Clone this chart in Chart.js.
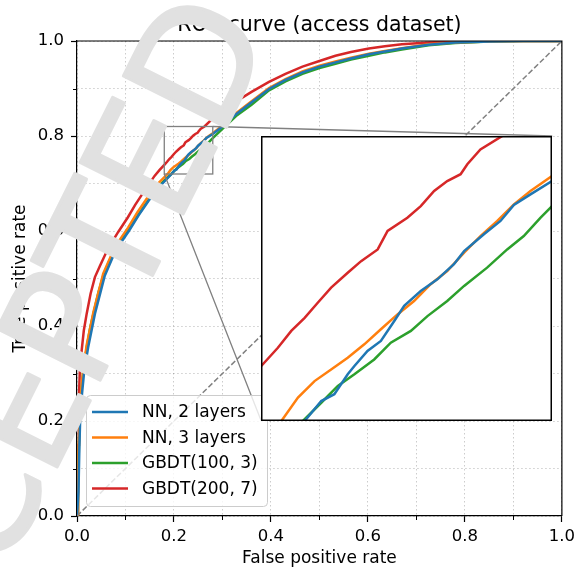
<!DOCTYPE html>
<html>
<head>
<meta charset="utf-8">
<script src="https://cdn.jsdelivr.net/npm/chart.js@4"></script>
<style>
  html, body { margin: 0; padding: 0; background: #fff; }
  #wrap { position: relative; width: 580px; height: 569px; }
  #main { position: absolute; left: 0; top: 0; }
  #inset { position: absolute; background: #fff; }
</style>
</head>
<body>
<div id="wrap">
  <canvas id="main" width="580" height="569"></canvas>
  <canvas id="inset"></canvas>
</div>
<script>
// ROC points (false positive rate / true positive rate)
const nn2Fpr = [0, 0.003, 0.005, 0.007, 0.011, 0.015, 0.023, 0.037, 0.057, 0.08, 0.107, 0.127, 0.148, 0.167,
  0.195, 0.2007, 0.2052, 0.2098, 0.2121, 0.2166, 0.2212, 0.2258, 0.2292, 0.2349, 0.2406, 0.2463, 0.2498, 0.2566, 0.2623, 0.2669, 0.2726, 0.28,
  0.30, 0.328, 0.36, 0.396, 0.43, 0.465, 0.50, 0.533, 0.565, 0.602, 0.635, 0.670, 0.725, 0.78, 0.85, 0.92, 1];
const nn2Tpr = [0, 0.05, 0.15, 0.22, 0.265, 0.306, 0.355, 0.426, 0.505, 0.56, 0.60, 0.633, 0.664, 0.69,
  0.72, 0.727, 0.7294, 0.7364, 0.7393, 0.7446, 0.7481, 0.7551, 0.7604, 0.7656, 0.7697, 0.775, 0.7796, 0.7855, 0.7902, 0.7958, 0.7995, 0.8042,
  0.820, 0.846, 0.871, 0.899, 0.918, 0.934, 0.946, 0.955, 0.963, 0.972, 0.978, 0.984, 0.992, 0.997, 0.999, 1, 1];

const nn3Fpr = [0, 0.002, 0.004, 0.006, 0.009, 0.013, 0.020, 0.034, 0.054, 0.078, 0.1054, 0.125, 0.1465, 0.165,
  0.187, 0.1927, 0.1984, 0.2041, 0.2098, 0.2155, 0.2212, 0.2269, 0.2326, 0.2383, 0.244, 0.2498, 0.2554, 0.2612, 0.2669, 0.2726, 0.28,
  0.30, 0.328, 0.36, 0.396, 0.43, 0.465, 0.50, 0.533, 0.565, 0.602, 0.635, 0.670, 0.725, 0.78, 0.85, 0.92, 1];
const nn3Tpr = [0, 0.06, 0.16, 0.23, 0.27, 0.31, 0.36, 0.43, 0.51, 0.566, 0.607, 0.64, 0.672, 0.698,
  0.72, 0.7282, 0.734, 0.7381, 0.7422, 0.7469, 0.7522, 0.7574, 0.7621, 0.768, 0.7726, 0.7791, 0.7849, 0.7902, 0.796, 0.8007, 0.806,
  0.822, 0.848, 0.873, 0.901, 0.920, 0.936, 0.948, 0.957, 0.965, 0.973, 0.979, 0.985, 0.993, 0.997, 0.999, 1, 1];

const gbdt100Fpr = [0, 0.002, 0.004, 0.006, 0.009, 0.013, 0.020, 0.027, 0.034, 0.044, 0.054, 0.066, 0.078, 0.092, 0.1054, 0.125, 0.1465, 0.165, 0.1807,
  0.1944, 0.2007, 0.2064, 0.2121, 0.2189, 0.2246, 0.2315, 0.2372, 0.244, 0.2498, 0.2577, 0.2646, 0.2703, 0.276, 0.28,
  0.30, 0.328, 0.36, 0.396, 0.43, 0.465, 0.50, 0.533, 0.565, 0.602, 0.635, 0.670, 0.725, 0.78, 0.85, 0.92, 1];
const gbdt100Tpr = [0, 0.05, 0.15, 0.22, 0.265, 0.306, 0.355, 0.395, 0.426, 0.47, 0.505, 0.535, 0.56, 0.582, 0.601, 0.632, 0.664, 0.69, 0.707,
  0.72, 0.7264, 0.7323, 0.7364, 0.7416, 0.7475, 0.7516, 0.7568, 0.7621, 0.7674, 0.7738, 0.7802, 0.7849, 0.7913, 0.7954,
  0.815, 0.842, 0.866, 0.896, 0.915, 0.931, 0.943, 0.952, 0.961, 0.969, 0.976, 0.982, 0.991, 0.996, 0.999, 1, 1];

const gbdt200Fpr = [0, 0.002, 0.003, 0.004, 0.006, 0.0096, 0.014, 0.020, 0.028, 0.037, 0.047, 0.064, 0.085, 0.105, 0.12, 0.14, 0.16, 0.17,
  0.1801, 0.1858, 0.1904, 0.195, 0.1995, 0.2041, 0.2098, 0.2144, 0.2201, 0.2235, 0.2303, 0.2349, 0.2395, 0.244, 0.2486, 0.2509, 0.2554, 0.2629,
  0.287, 0.33, 0.36, 0.396, 0.43, 0.465, 0.50, 0.533, 0.565, 0.602, 0.635, 0.670, 0.725, 0.8, 0.88, 1];
const gbdt200Tpr = [0, 0.05, 0.15, 0.25, 0.31, 0.348, 0.39, 0.426, 0.468, 0.503, 0.526, 0.563, 0.598, 0.629, 0.655, 0.686, 0.716, 0.728,
  0.7393, 0.7457, 0.7516, 0.7562, 0.7615, 0.7668, 0.772, 0.7761, 0.7802, 0.7867, 0.7913, 0.7954, 0.8007, 0.8042, 0.8066, 0.8101, 0.8153, 0.82,
  0.844, 0.874, 0.893, 0.914, 0.931, 0.946, 0.958, 0.969, 0.977, 0.984, 0.989, 0.993, 0.997, 0.999, 1, 1];

const seriesLabels = ['NN, 2 layers', 'NN, 3 layers', 'GBDT(100, 3)', 'GBDT(200, 7)'];
const seriesColors = ['#1f77b4', '#ff7f0e', '#2ca02c', '#d62728'];
const seriesFpr = [nn2Fpr, nn3Fpr, gbdt100Fpr, gbdt200Fpr];
const seriesTpr = [nn2Tpr, nn3Tpr, gbdt100Tpr, gbdt200Tpr];

const chanceX = [0, 1];
const chanceY = [0, 1];

// zoomed window and where the inset sits (axes fraction: x0, y0, x1, y1)
const zoomX = [0.18, 0.28];
const zoomY = [0.72, 0.82];
const insetBox = [0.38, 0.2, 0.98, 0.8];

const titleText = 'ROC curve (access dataset)';
const stampText = 'ACCEPTED';

const FONT = "'DejaVu Sans', sans-serif";
Chart.defaults.font.family = FONT;
Chart.defaults.color = '#000';

const toPoints = (xs, ys) => xs.map((x, i) => ({ x: x, y: ys[i] }));

const makeCurves = () => seriesLabels.map((label, i) => ({
  label: label,
  data: toPoints(seriesFpr[i], seriesTpr[i]),
  borderColor: seriesColors[i],
  backgroundColor: seriesColors[i],
  borderWidth: 2.5,
  pointRadius: 0,
  tension: 0,
  fill: false
}));

const isMinor = (v) => Math.round(v * 10) % 2 !== 0;

const gridOpts = {
  color: 'rgba(0,0,0,0.2)',
  lineWidth: 1,
  tickLength: 6,
  tickWidth: 1.2,
  tickBorderDash: [],
  tickColor: (c) => (c.tick && isMinor(c.tick.value) ? 'rgba(0,0,0,0)' : '#000')
};

const mainDecor = {
  id: 'mainDecor',
  afterDatasetsDraw(chart) {
    const { ctx, chartArea: a, scales: { x, y } } = chart;
    ctx.save();

    // top / right spines
    ctx.strokeStyle = '#000';
    ctx.lineWidth = 1.2;
    ctx.beginPath();
    ctx.moveTo(a.left, a.top);
    ctx.lineTo(a.right, a.top);
    ctx.lineTo(a.right, a.bottom);
    ctx.stroke();

    // minor ticks (shorter)
    ctx.lineWidth = 1;
    x.ticks.filter(t => isMinor(t.value)).forEach(t => {
      const px = Math.round(x.getPixelForValue(t.value)) + 0.5;
      ctx.beginPath(); ctx.moveTo(px, a.bottom); ctx.lineTo(px, a.bottom + 4); ctx.stroke();
    });
    y.ticks.filter(t => isMinor(t.value)).forEach(t => {
      const py = Math.round(y.getPixelForValue(t.value)) + 0.5;
      ctx.beginPath(); ctx.moveTo(a.left - 4, py); ctx.lineTo(a.left, py); ctx.stroke();
    });

    // title, centred over the axes
    ctx.fillStyle = '#000';
    ctx.font = '20.5px ' + FONT;
    ctx.textAlign = 'center';
    ctx.textBaseline = 'alphabetic';
    ctx.fillText(titleText, (a.left + a.right) / 2, 30.5);

    // zoom rectangle + connector lines to the inset
    const rx0 = x.getPixelForValue(zoomX[0]), rx1 = x.getPixelForValue(zoomX[1]);
    const ry0 = y.getPixelForValue(zoomY[0]), ry1 = y.getPixelForValue(zoomY[1]);
    const ix0 = x.getPixelForValue(insetBox[0]), ix1 = x.getPixelForValue(insetBox[2]);
    const iy0 = y.getPixelForValue(insetBox[1]), iy1 = y.getPixelForValue(insetBox[3]);
    ctx.strokeStyle = '#808080';
    ctx.lineWidth = 1.3;
    ctx.strokeRect(rx0, ry1, rx1 - rx0, ry0 - ry1);
    ctx.beginPath();
    ctx.moveTo(rx1, ry1); ctx.lineTo(ix1, iy1);
    ctx.moveTo(rx0, ry0); ctx.lineTo(ix0, iy0);
    ctx.stroke();

    // legend, lower left inside the axes
    const fs = 17;
    const items = chart.data.datasets.filter(d => d.label);
    const lx = a.left + 9, ly = a.top + 354;
    const lw = 181, lh = 111;
    ctx.beginPath();
    ctx.roundRect(lx + 0.5, ly + 0.5, lw, lh, 4);
    ctx.fillStyle = 'rgba(255,255,255,0.8)';
    ctx.fill();
    ctx.strokeStyle = '#cccccc';
    ctx.lineWidth = 1;
    ctx.stroke();
    ctx.font = fs + 'px ' + FONT;
    ctx.textBaseline = 'middle';
    ctx.textAlign = 'left';
    items.forEach((d, i) => {
      const cy = ly + 17 + i * 25.5;
      ctx.strokeStyle = d.borderColor;
      ctx.lineWidth = 2.5;
      ctx.beginPath(); ctx.moveTo(lx + 6, cy); ctx.lineTo(lx + 42, cy); ctx.stroke();
      ctx.fillStyle = '#000';
      ctx.fillText(d.label, lx + 56, cy + 1);
    });
    ctx.restore();
  },
  afterDraw(chart) {
    // faint watermark stamped over the figure
    const ctx = chart.ctx;
    ctx.save();
    ctx.translate(272.4, 35);
    ctx.rotate(-63.5 * Math.PI / 180);
    ctx.font = '158px ' + FONT;
    ctx.letterSpacing = '-3px';
    ctx.fillStyle = '#e1e1e1';
    ctx.strokeStyle = '#e1e1e1';
    ctx.lineWidth = 3;
    ctx.lineJoin = 'round';
    ctx.textAlign = 'right';
    ctx.textBaseline = 'alphabetic';
    ctx.fillText(stampText, 0, 0);
    ctx.strokeText(stampText, 0, 0);
    ctx.restore();
  }
};

const mainChart = new Chart(document.getElementById('main'), {
  type: 'line',
  data: {
    datasets: [{
      label: '',
      data: toPoints(chanceX, chanceY),
      borderColor: '#808080',
      borderDash: [5.5, 2.5],
      borderWidth: 1.5,
      pointRadius: 0,
      fill: false
    }].concat(makeCurves())
  },
  options: {
    responsive: false,
    animation: false,
    events: [],
    layout: { padding: { left: 0, right: 16, top: 41, bottom: 0 } },
    plugins: {
      legend: { display: false },
      tooltip: { enabled: false },
      title: { display: false }
    },
    scales: {
      x: {
        type: 'linear', min: 0, max: 1,
        ticks: {
          stepSize: 0.1, autoSkip: false, maxRotation: 0, padding: 5,
          font: { size: 16.5 },
          callback: (v) => (isMinor(v) ? '' : v.toFixed(1))
        },
        grid: gridOpts,
        border: { display: true, color: '#000', width: 1.2, dash: [1.5, 2.5] },
        title: { display: true, text: 'False positive rate', font: { size: 17 }, padding: { top: 0, bottom: 0 } },
        afterFit: (s) => { s.height = 53; }
      },
      y: {
        type: 'linear', min: 0, max: 1,
        ticks: {
          stepSize: 0.1, autoSkip: false, padding: 7,
          font: { size: 16.5 },
          callback: (v) => (isMinor(v) ? '' : v.toFixed(1))
        },
        grid: gridOpts,
        border: { display: true, color: '#000', width: 1.2, dash: [1.5, 2.5] },
        title: { display: true, text: 'True positive rate', font: { size: 17 }, padding: { top: 10, bottom: 0 } },
        afterFit: (s) => { s.width = 77; }
      }
    }
  },
  plugins: [mainDecor]
});

// zoomed inset: a second chart laid over the main axes
const ms = mainChart.scales;
const insetLeft = Math.round(ms.x.getPixelForValue(insetBox[0]));
const insetRight = Math.round(ms.x.getPixelForValue(insetBox[2]));
const insetTop = Math.round(ms.y.getPixelForValue(insetBox[3]));
const insetBottom = Math.round(ms.y.getPixelForValue(insetBox[1]));
const insetCanvas = document.getElementById('inset');
insetCanvas.width = insetRight - insetLeft;
insetCanvas.height = insetBottom - insetTop;
insetCanvas.style.left = insetLeft + 'px';
insetCanvas.style.top = insetTop + 'px';

const insetFrame = {
  id: 'insetFrame',
  afterDraw(chart) {
    const ctx = chart.ctx;
    ctx.save();
    ctx.strokeStyle = '#000';
    ctx.lineWidth = 1.5;
    ctx.strokeRect(0.75, 0.75, chart.width - 1.5, chart.height - 1.5);
    ctx.restore();
  }
};

const insetGrid = {
  display: true, drawTicks: false, color: 'rgba(0,0,0,0.2)', lineWidth: 1
};

new Chart(insetCanvas, {
  type: 'line',
  data: { datasets: makeCurves() },
  options: {
    responsive: false,
    animation: false,
    events: [],
    layout: { padding: 0 },
    plugins: { legend: { display: false }, tooltip: { enabled: false } },
    scales: {
      x: {
        type: 'linear', min: zoomX[0], max: zoomX[1],
        ticks: { display: false, stepSize: 0.1 },
        grid: insetGrid,
        border: { display: false, dash: [1.5, 2.5] }
      },
      y: {
        type: 'linear', min: zoomY[0], max: zoomY[1],
        ticks: { display: false, stepSize: 0.1 },
        grid: insetGrid,
        border: { display: false, dash: [1.5, 2.5] }
      }
    }
  },
  plugins: [insetFrame]
});
</script>
</body>
</html>
